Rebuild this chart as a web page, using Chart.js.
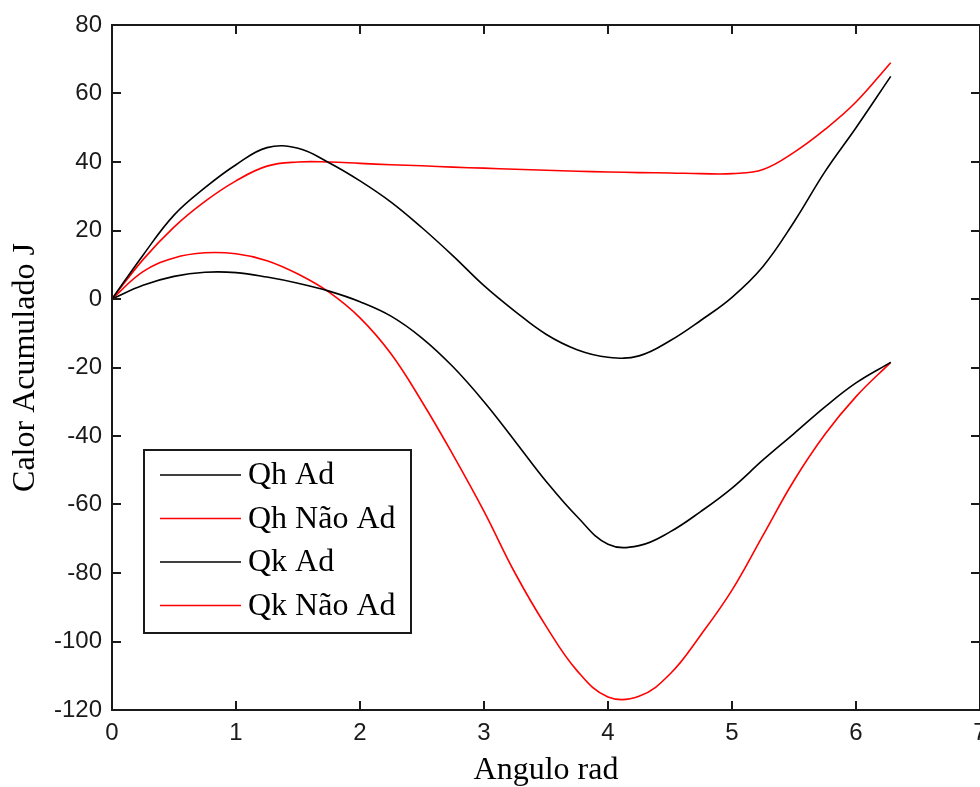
<!DOCTYPE html>
<html>
<head>
<meta charset="utf-8">
<script src="https://cdn.jsdelivr.net/npm/chart.js@4"></script>
<style>
  html, body { margin: 0; padding: 0; background: #fff; overflow: hidden; }
  #wrap { width: 980px; height: 787px; overflow: hidden; }
</style>
</head>
<body>
<div id="wrap"><canvas id="chart" width="1010" height="787"></canvas></div>
<script>
// angle values (rad) shared by every curve
const angle = [0, 0.25, 0.5, 0.75, 1, 1.25, 1.5, 1.75, 2, 2.25, 2.5, 2.75, 3, 3.25, 3.5, 3.75, 4, 4.25, 4.5, 4.75, 5, 5.25, 5.5, 5.75, 6, 6.28];

// accumulated heat (J)
const qhAd    = [0, 12.8, 24.5, 32.5, 39.2, 44.2, 44, 39.8, 34.5, 28.3, 20.8, 12.6, 3.9, -3.6, -10.3, -14.8, -17, -16.6, -12.2, -6.2, 0.5, 9.5, 22.5, 37.2, 50, 65];
const qhNaoAd = [0, 11.5, 21, 28.5, 34.5, 38.8, 40, 40, 39.6, 39.2, 38.9, 38.5, 38.2, 37.9, 37.6, 37.3, 37.1, 36.9, 36.8, 36.6, 36.6, 37.8, 42.8, 49.5, 57.5, 69];
const qkAd    = [0, 4, 6.6, 7.8, 7.7, 6.4, 4.6, 2.3, -0.8, -5, -11.4, -19.8, -30, -41.5, -53.2, -63.5, -71.6, -72, -68, -62, -55.2, -47, -39.3, -31.5, -24.5, -18.5];
const qkNaoAd = [0, 8, 12, 13.5, 13.2, 11.2, 7.3, 2, -5.5, -16, -30, -45.5, -62, -80, -95.5, -108.5, -116.2, -116, -109.5, -98, -85, -69, -53, -39.5, -28.5, -18.5];

const seriesLabels = ['Qh Ad', 'Qh Não Ad', 'Qk Ad', 'Qk Não Ad'];
const seriesColors = ['#000000', '#ff0000', '#000000', '#ff0000'];
const seriesValues = [qhAd, qhNaoAd, qkAd, qkNaoAd];

const xTicks = [0, 1, 2, 3, 4, 5, 6, 7];
const yTicks = [-120, -100, -80, -60, -40, -20, 0, 20, 40, 60, 80];

const serif = '"Liberation Serif", "Times New Roman", serif';
const sans = '"Liberation Sans", Arial, sans-serif';

// box around the axes plus inward ticks on all four sides
const framePlugin = {
    id: 'frame',
    afterDatasetsDraw(chart) {
        const ctx = chart.ctx;
        const a = chart.chartArea;
        const xs = chart.scales.x, ys = chart.scales.y;
        ctx.save();
        ctx.strokeStyle = '#1a1a1a';
        ctx.lineWidth = 2;
        ctx.beginPath();
        xTicks.forEach(v => {
            const px = Math.round(xs.getPixelForValue(v));
            ctx.moveTo(px, a.bottom); ctx.lineTo(px, a.bottom - 9);
            ctx.moveTo(px, a.top); ctx.lineTo(px, a.top + 9);
        });
        yTicks.forEach(v => {
            const py = Math.round(ys.getPixelForValue(v));
            ctx.moveTo(a.left, py); ctx.lineTo(a.left + 9, py);
            ctx.moveTo(a.right, py); ctx.lineTo(a.right - 9, py);
        });
        ctx.stroke();
        ctx.strokeRect(a.left, a.top, a.right - a.left, a.bottom - a.top);
        ctx.restore();
    }
};

// MATLAB style legend box in the lower left of the axes
const legendPlugin = {
    id: 'boxLegend',
    afterDraw(chart) {
        const ctx = chart.ctx;
        const a = chart.chartArea;
        const bx = a.left + 32, by = a.top + 425, bw = 267, bh = 183;
        ctx.save();
        ctx.fillStyle = '#fff';
        ctx.fillRect(bx, by, bw, bh);
        ctx.strokeStyle = '#1a1a1a';
        ctx.lineWidth = 2;
        ctx.strokeRect(bx, by, bw, bh);
        ctx.font = '32px ' + serif;
        ctx.textBaseline = 'middle';
        chart.data.datasets.forEach((ds, i) => {
            const y = by + 25 + i * 43.5;
            ctx.strokeStyle = ds.borderColor;
            ctx.lineWidth = 1.6;
            ctx.beginPath();
            ctx.moveTo(bx + 16, y);
            ctx.lineTo(bx + 97, y);
            ctx.stroke();
            ctx.fillStyle = '#000';
            ctx.fillText(ds.label, bx + 104, y + 1);
        });
        ctx.restore();
    }
};

const ctx = document.getElementById('chart').getContext('2d');
window.calorChart = new Chart(ctx, {
    type: 'scatter',
    data: {
        datasets: seriesValues.map((vals, i) => ({
            label: seriesLabels[i],
            data: angle.map((t, j) => ({ x: t, y: vals[j] })),
            borderColor: seriesColors[i],
            backgroundColor: seriesColors[i],
            borderWidth: 1.6,
            showLine: true,
            pointRadius: 0,
            tension: 0.4,
            fill: false
        }))
    },
    options: {
        responsive: false,
        animation: false,
        layout: {
            padding: { top: 25, right: 30, bottom: 0, left: 0 }
        },
        scales: {
            x: {
                type: 'linear',
                min: 0,
                max: 7,
                afterBuildTicks: s => { s.ticks = xTicks.map(v => ({ value: v })); },
                afterFit: s => { s.height = 77; },
                grid: { display: false, drawTicks: false },
                border: { display: false },
                ticks: {
                    padding: 9,
                    color: '#1a1a1a',
                    font: { family: sans, size: 24 },
                    maxRotation: 0,
                    autoSkip: false
                },
                title: {
                    display: true,
                    text: 'Angulo rad',
                    color: '#000',
                    font: { family: serif, size: 32 },
                    padding: { top: 0, bottom: -3 }
                }
            },
            y: {
                type: 'linear',
                min: -120,
                max: 80,
                afterBuildTicks: s => { s.ticks = yTicks.map(v => ({ value: v })); },
                afterFit: s => { s.width = 112; },
                grid: { display: false, drawTicks: false },
                border: { display: false },
                ticks: {
                    padding: 10,
                    color: '#1a1a1a',
                    font: { family: sans, size: 24 }
                },
                title: {
                    display: true,
                    text: 'Calor Acumulado J',
                    color: '#000',
                    font: { family: serif, size: 32 },
                    padding: { top: 6, bottom: 0 }
                }
            }
        },
        plugins: {
            legend: { display: false },
            tooltip: { enabled: false }
        }
    },
    plugins: [framePlugin, legendPlugin]
});
</script>
</body>
</html>
